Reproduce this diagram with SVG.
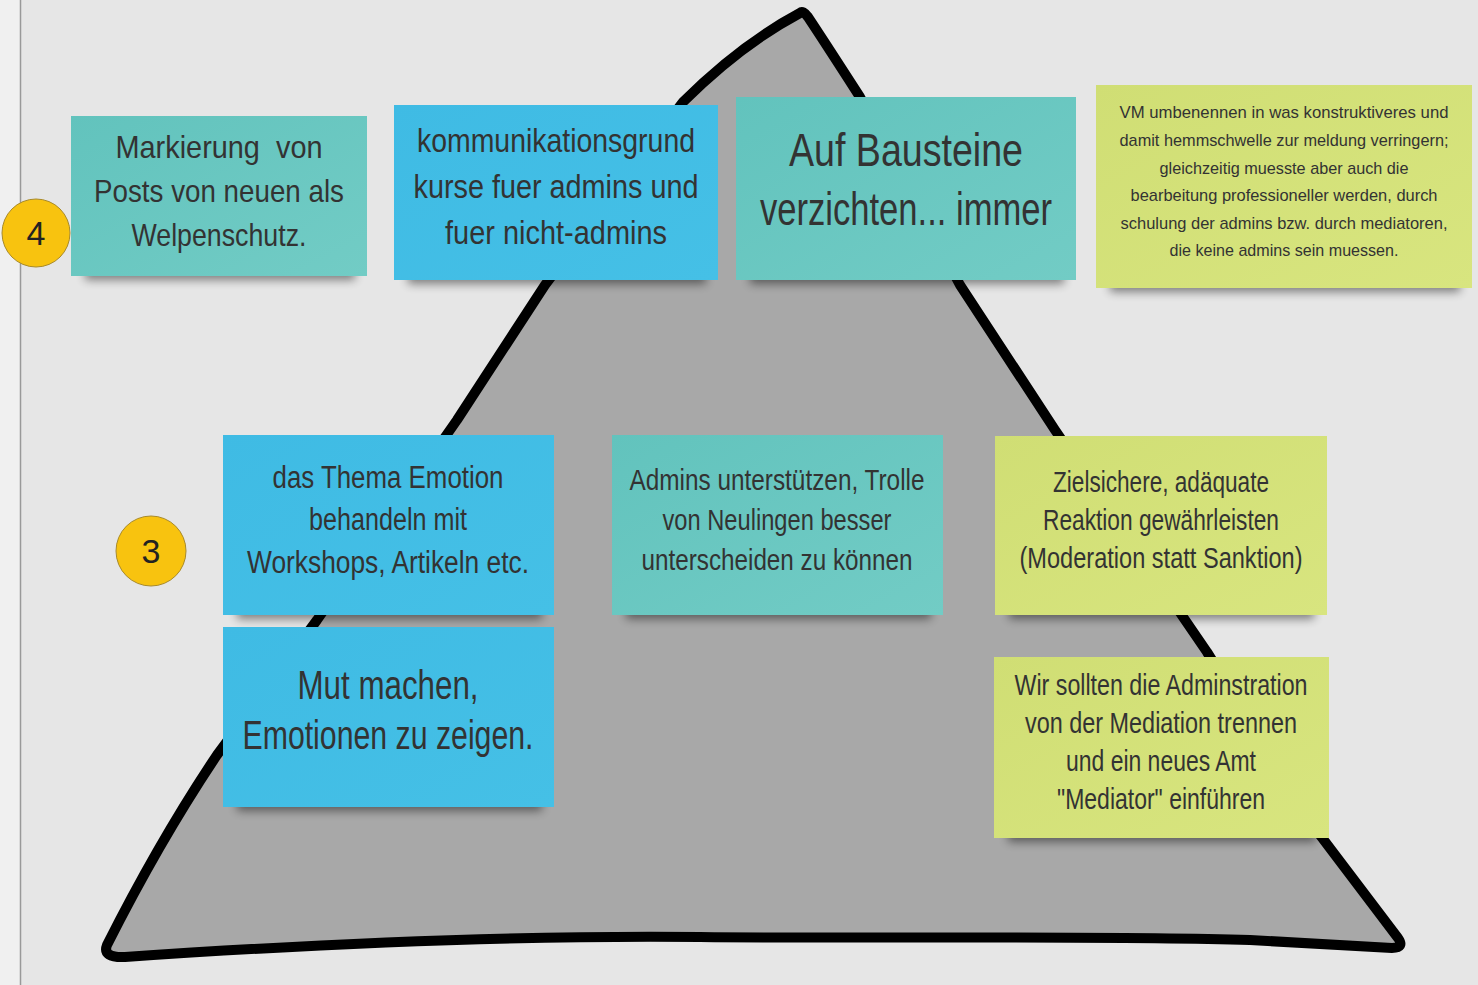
<svg xmlns="http://www.w3.org/2000/svg" width="1478" height="985" viewBox="0 0 1478 985">
<defs>
<filter id="blur" x="-20%" y="-100%" width="140%" height="300%"><feGaussianBlur stdDeviation="5"/></filter>
<linearGradient id="gTeal" x1="0" y1="0" x2="1" y2="1"><stop offset="0" stop-color="#62c3bd"/><stop offset="1" stop-color="#72ccc5"/></linearGradient>
<linearGradient id="gBlue" x1="0" y1="0" x2="1" y2="1"><stop offset="0" stop-color="#3fbbe4"/><stop offset="1" stop-color="#45c0e6"/></linearGradient>
<linearGradient id="gYel" x1="0" y1="0" x2="1" y2="1"><stop offset="0" stop-color="#d0de74"/><stop offset="1" stop-color="#d8e57f"/></linearGradient>
</defs>
<style>
.t{font-family:"Liberation Sans","DejaVu Sans",sans-serif;fill:#333;text-anchor:middle}
.sh{fill:#000;opacity:.45;filter:url(#blur)}
.teal{fill:url(#gTeal)}
.blue{fill:url(#gBlue)}
.yel{fill:url(#gYel)}
.badge{fill:#f8c30f;stroke:#a88a2a;stroke-width:1}
.bt{font-family:"Liberation Sans","DejaVu Sans",sans-serif;fill:#222;text-anchor:middle;font-size:34px}
</style>
<rect x="0" y="0" width="1478" height="985" fill="#e6e6e6"/>
<rect x="0" y="0" width="20" height="985" fill="#f0f0f0"/>
<line x1="20.5" y1="0" x2="20.5" y2="985" stroke="#999" stroke-width="1.5"/>

<g id="pyramid">
<path d="M 800,13 Q 740,45 683,102 L 545,285 L 457,420 L 317,620 L 217,755 Q 160,840 107,945 Q 102,958 125,957 C 300,945 500,935 700,937 S 1100,935 1250,940 L 1392,948 Q 1405,948 1398,938 L 1320,835 L 1207,652 L 1055,430 L 960,285 L 860,97 Q 822,38 808,17 Q 803,10 800,13 Z" fill="#a8a8a8" stroke="#000" stroke-width="10" stroke-linejoin="round"/>
</g>

<g id="connectors"></g>

<g id="badge4">
<circle cx="36" cy="233" r="34" class="badge"/>
<text class="bt" x="36" y="245">4</text>
</g>
<g id="badge3">
<circle cx="151" cy="551" r="35" class="badge"/>
<text class="bt" x="151" y="563">3</text>
</g>

<g id="note1">
<rect class="sh" x="85" y="262" width="270" height="18"/>
<rect class="teal" x="71" y="116" width="296" height="160"/>
<text class="t" font-size="32" xml:space="preserve"><tspan x="219" y="158" textLength="207" lengthAdjust="spacingAndGlyphs">Markierung  von</tspan><tspan x="219" y="202" textLength="250" lengthAdjust="spacingAndGlyphs">Posts von neuen als</tspan><tspan x="219" y="246" textLength="175" lengthAdjust="spacingAndGlyphs">Welpenschutz.</tspan></text>
</g>

<g id="note2">
<rect class="sh" x="408" y="266" width="298" height="18"/>
<rect class="blue" x="394" y="105" width="324" height="175"/>
<text class="t" font-size="33"><tspan x="556" y="152" textLength="278" lengthAdjust="spacingAndGlyphs">kommunikationsgrund</tspan><tspan x="556" y="198" textLength="285" lengthAdjust="spacingAndGlyphs">kurse fuer admins und</tspan><tspan x="556" y="244" textLength="222" lengthAdjust="spacingAndGlyphs">fuer nicht-admins</tspan></text>
</g>

<g id="note3">
<rect class="sh" x="750" y="266" width="314" height="18"/>
<rect class="teal" x="736" y="97" width="340" height="183"/>
<text class="t" font-size="46"><tspan x="906" y="166" textLength="234" lengthAdjust="spacingAndGlyphs">Auf Bausteine</tspan><tspan x="906" y="225" textLength="292" lengthAdjust="spacingAndGlyphs">verzichten... immer</tspan></text>
</g>

<g id="note4">
<rect class="sh" x="1110" y="274" width="350" height="18"/>
<rect class="yel" x="1096" y="85" width="376" height="203"/>
<text class="t" font-size="17"><tspan x="1284" y="118" textLength="329" lengthAdjust="spacingAndGlyphs">VM umbenennen in was konstruktiveres und</tspan><tspan x="1284" y="146" textLength="329" lengthAdjust="spacingAndGlyphs">damit hemmschwelle zur meldung verringern;</tspan><tspan x="1284" y="174" textLength="249" lengthAdjust="spacingAndGlyphs">gleichzeitig muesste aber auch die</tspan><tspan x="1284" y="201" textLength="307" lengthAdjust="spacingAndGlyphs">bearbeitung professioneller werden, durch</tspan><tspan x="1284" y="229" textLength="327" lengthAdjust="spacingAndGlyphs">schulung der admins bzw. durch mediatoren,</tspan><tspan x="1284" y="256" textLength="229" lengthAdjust="spacingAndGlyphs">die keine admins sein muessen.</tspan></text>
</g>

<g id="note5">
<rect class="sh" x="237" y="601" width="305" height="18"/>
<rect class="blue" x="223" y="435" width="331" height="180"/>
<text class="t" font-size="31"><tspan x="388" y="488" textLength="231" lengthAdjust="spacingAndGlyphs">das Thema Emotion</tspan><tspan x="388" y="530" textLength="158" lengthAdjust="spacingAndGlyphs">behandeln mit</tspan><tspan x="388" y="573" textLength="282" lengthAdjust="spacingAndGlyphs">Workshops, Artikeln etc.</tspan></text>
</g>

<g id="note6">
<rect class="sh" x="237" y="793" width="305" height="18"/>
<rect class="blue" x="223" y="627" width="331" height="180"/>
<text class="t" font-size="40"><tspan x="388" y="699" textLength="181" lengthAdjust="spacingAndGlyphs">Mut machen,</tspan><tspan x="388" y="749" textLength="291" lengthAdjust="spacingAndGlyphs">Emotionen zu zeigen.</tspan></text>
</g>

<g id="note7">
<rect class="sh" x="626" y="601" width="305" height="18"/>
<rect class="teal" x="612" y="435" width="331" height="180"/>
<text class="t" font-size="30"><tspan x="777" y="490" textLength="295" lengthAdjust="spacingAndGlyphs">Admins unterstützen, Trolle</tspan><tspan x="777" y="530" textLength="229" lengthAdjust="spacingAndGlyphs">von Neulingen besser</tspan><tspan x="777" y="570" textLength="271" lengthAdjust="spacingAndGlyphs">unterscheiden zu können</tspan></text>
</g>

<g id="note8">
<rect class="sh" x="1009" y="601" width="305" height="18"/>
<rect class="yel" x="995" y="436" width="332" height="179"/>
<text class="t" font-size="29"><tspan x="1161" y="492" textLength="216" lengthAdjust="spacingAndGlyphs">Zielsichere, adäquate</tspan><tspan x="1161" y="530" textLength="236" lengthAdjust="spacingAndGlyphs">Reaktion gewährleisten</tspan><tspan x="1161" y="568" textLength="283" lengthAdjust="spacingAndGlyphs">(Moderation statt Sanktion)</tspan></text>
</g>

<g id="note9">
<rect class="sh" x="1008" y="824" width="308" height="18"/>
<rect class="yel" x="994" y="657" width="335" height="181"/>
<text class="t" font-size="29"><tspan x="1161" y="695" textLength="293" lengthAdjust="spacingAndGlyphs">Wir sollten die Adminstration</tspan><tspan x="1161" y="733" textLength="272" lengthAdjust="spacingAndGlyphs">von der Mediation trennen</tspan><tspan x="1161" y="771" textLength="190" lengthAdjust="spacingAndGlyphs">und ein neues Amt</tspan><tspan x="1161" y="809" textLength="208" lengthAdjust="spacingAndGlyphs">"Mediator" einführen</tspan></text>
</g>
</svg>
